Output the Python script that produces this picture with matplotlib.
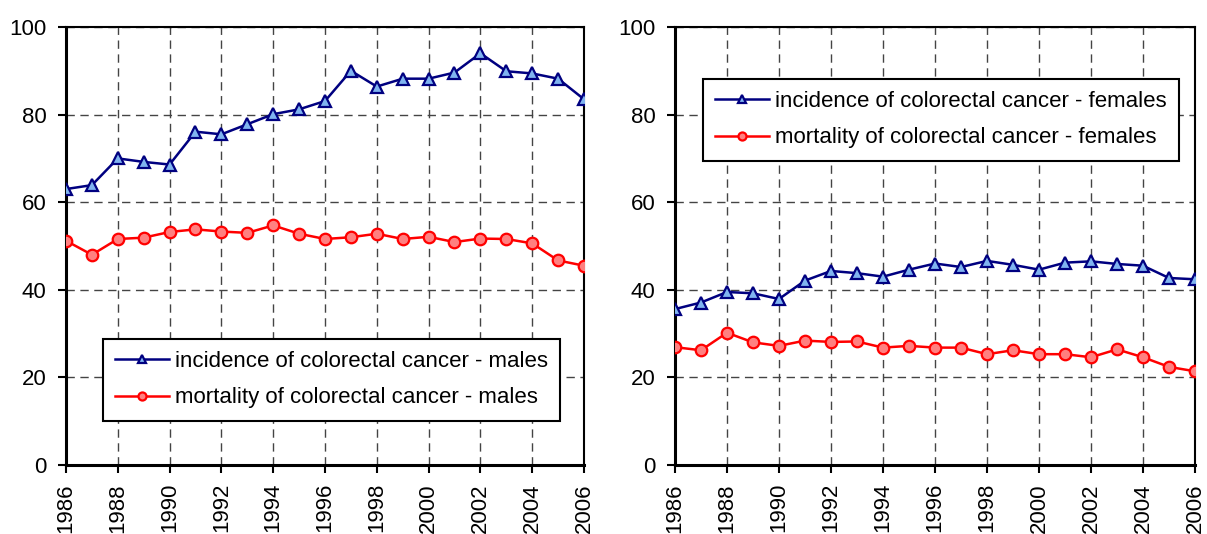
import matplotlib
matplotlib.use("Agg")
import matplotlib.pyplot as plt
from matplotlib import font_manager

years = list(range(1986, 2007))
inc_males = [63.0, 63.9, 70.0, 69.2, 68.6, 76.1, 75.5, 77.8, 80.1, 81.2, 83.1,
             90.0, 86.4, 88.2, 88.2, 89.6, 94.0, 89.9, 89.4, 88.2, 83.5]
mort_males = [51.2, 48.0, 51.6, 51.9, 53.2, 53.8, 53.3, 53.0, 54.7, 52.8, 51.6,
              52.0, 52.8, 51.6, 52.1, 50.9, 51.7, 51.6, 50.6, 46.7, 45.5]
inc_females = [35.6, 37.1, 39.5, 39.2, 37.9, 42.1, 44.3, 43.8, 43.0, 44.6, 46.0,
               45.2, 46.6, 45.7, 44.6, 46.2, 46.5, 45.9, 45.5, 42.7, 42.4]
mort_females = [26.9, 26.2, 30.2, 28.0, 27.2, 28.4, 28.1, 28.2, 26.8, 27.2, 26.8,
                26.8, 25.3, 26.2, 25.3, 25.3, 24.6, 26.4, 24.6, 22.4, 21.4]

names = {f.name for f in font_manager.fontManager.ttflist}
fam = "Liberation Sans Narrow" if "Liberation Sans Narrow" in names else "Liberation Sans"
plt.rcParams["font.family"] = [fam, "DejaVu Sans"]

fig = plt.figure(figsize=(12.07, 5.34), dpi=100)
W, H = 1207, 534
axes = [fig.add_axes([66 / W, 1 - 465 / H, 518 / W, 438 / H]),
        fig.add_axes([675 / W, 1 - 465 / H, 520 / W, 438 / H])]

# legend top-left corners in pixels
panels = [(inc_males, mort_males, "males", (103, 339)),
          (inc_females, mort_females, "females", (703, 79))]

for ax, (inc, mort, sex, corner) in zip(axes, panels):
    ax.plot(years, inc, color="#000080", lw=1.8, marker="^", ms=9,
            mfc="#80b4f0", mec="#000080", mew=1.6,
            label=f"incidence of colorectal cancer - {sex}", zorder=3)
    ax.plot(years, mort, color="#ff0000", lw=1.8, marker="o", ms=8.3,
            mfc="#ff8080", mec="#ff0000", mew=1.6,
            label=f"mortality of colorectal cancer - {sex}", zorder=3)
    ax.set_xlim(1986, 2006)
    ax.set_ylim(0, 100)
    ax.set_xticks(range(1986, 2007, 2))
    ax.set_yticks(range(0, 101, 20))
    ax.tick_params(axis="x", labelrotation=90, labelsize=16, length=6, width=1.5, pad=7)
    ax.tick_params(axis="y", labelsize=16, length=6, width=1.5, pad=8)
    ax.grid(True, ls=(0, (6, 4)), color="#444444", lw=1)
    for s in ("left", "bottom"):
        ax.spines[s].set_linewidth(2.2)
    for s in ("top", "right"):
        ax.spines[s].set_linewidth(1.5)
    leg = ax.legend(loc="upper left", fontsize=16, frameon=True, fancybox=False,
                    edgecolor="black", framealpha=1, handlelength=2.4,
                    borderpad=0.55, labelspacing=0.68, handletextpad=0.3,
                    markerscale=0.7, borderaxespad=0,
                    bbox_to_anchor=(corner[0] / W, 1 - corner[1] / H),
                    bbox_transform=fig.transFigure)
    leg.get_frame().set_linewidth(1.5)

fig.savefig("out.png", dpi=100)
